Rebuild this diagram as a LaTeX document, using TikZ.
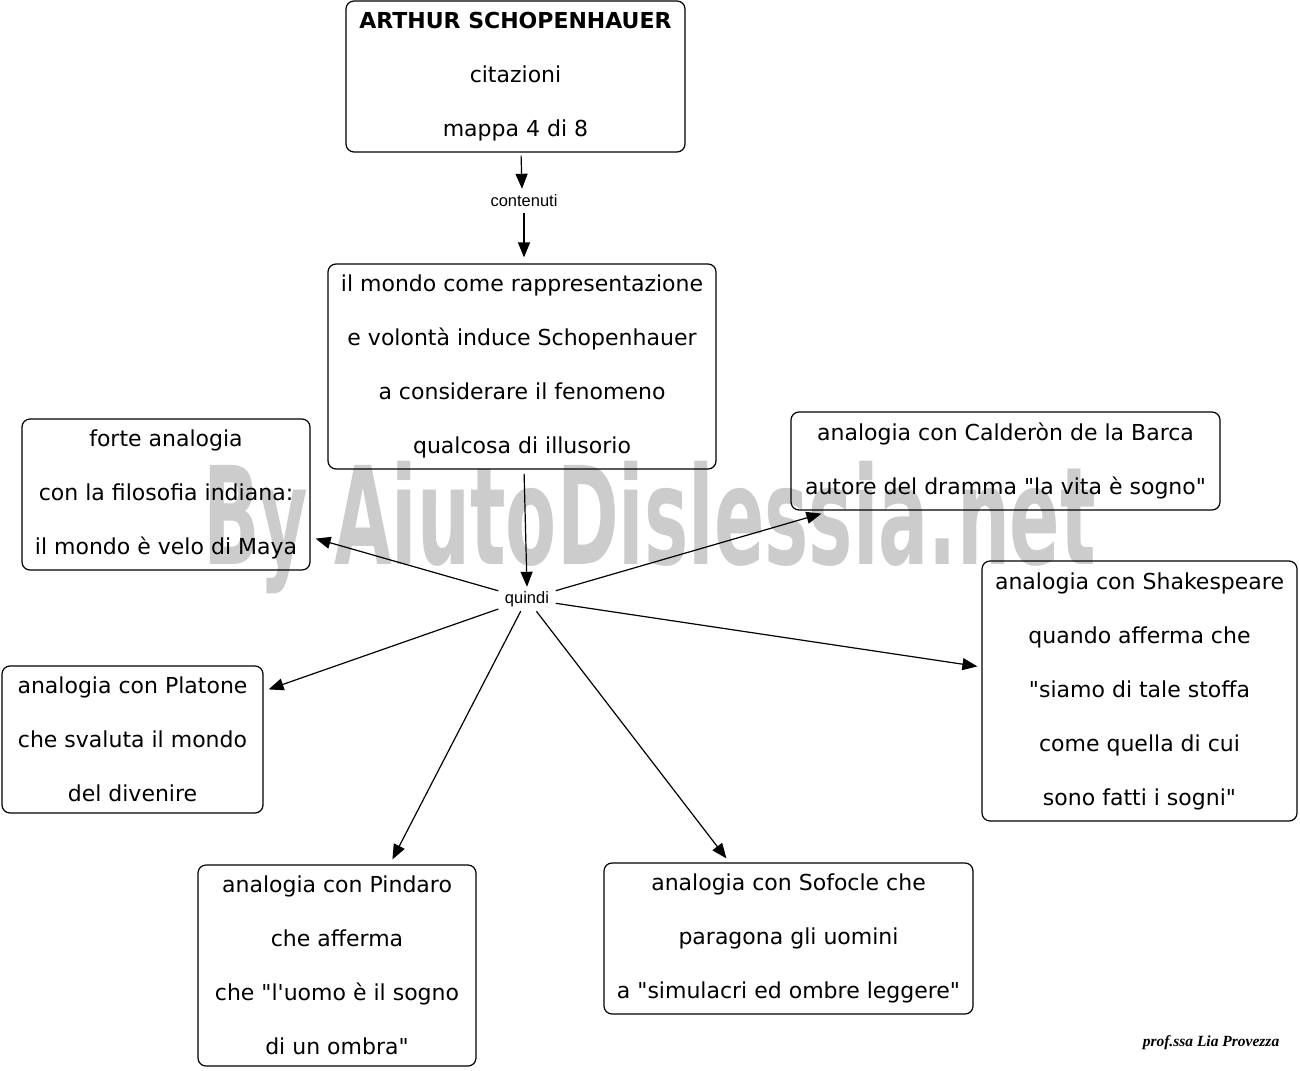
\documentclass[tikz,border=0pt]{standalone}
\usepackage{fontspec}
\setmainfont{DejaVu Sans}[Ligatures=TeXOff]
\newfontfamily\lblfont{Liberation Sans}
\newfontfamily\sigfont{Liberation Serif}
\usetikzlibrary{arrows.meta}
\begin{document}
\begin{tikzpicture}[x=1pt,y=-1pt,
  box/.style={draw, line width=1.2pt, rounded corners=8pt, align=center, inner sep=0pt,
    font=\fontsize{22}{54}\selectfont},
  lbl/.style={inner sep=0pt, minimum width=57pt, minimum height=24pt, font=\lblfont\fontsize{16.5}{18}\selectfont},
  arr/.style={line width=1.2pt, -{Triangle[length=15pt,width=12pt]}}]
\useasboundingbox (0,0) rectangle (1300,1070);
% watermark
\node[anchor=base west, inner sep=0pt, text=black!20, font=\fontsize{136}{140}\selectfont\bfseries] (wm) at (203,564)
  {\scalebox{0.547}[1]{By AiutoDislessia.net}};
% boxes
\node[box, minimum width=339pt, minimum height=151pt] (top) at (515.5,76.5)
  {\textbf{ARTHUR SCHOPENHAUER}\\citazioni\\mappa 4 di 8};
\node[box, minimum width=388pt, minimum height=205pt] (main) at (522,366.5)
  {il mondo come rappresentazione\\e volontà induce Schopenhauer\\a considerare il fenomeno\\qualcosa di illusorio};
\node[box, minimum width=288pt, minimum height=151pt] (lu) at (166,494.5)
  {forte analogia\\con la filosofia indiana:\\il mondo è velo di Maya};
\node[box, minimum width=429pt, minimum height=98pt] (cal) at (1005.5,461)
  {analogia con Calderòn de la Barca\\autore del dramma "la vita è sogno"};
\node[box, minimum width=315pt, minimum height=260pt] (sha) at (1139.5,691)
  {analogia con Shakespeare\\quando afferma che\\"siamo di tale stoffa\\come quella di cui\\sono fatti i sogni"};
\node[box, minimum width=261pt, minimum height=147pt] (pla) at (132.5,739.5)
  {analogia con Platone\\che svaluta il mondo\\del divenire};
\node[box, minimum width=278pt, minimum height=201pt] (pin) at (337,965.5)
  {analogia con Pindaro\\che afferma\\che "l'uomo è il sogno\\di un ombra"};
\node[box, minimum width=369pt, minimum height=151pt] (sof) at (788.5,938.5)
  {analogia con Sofocle che\\paragona gli uomini\\a "simulacri ed ombre leggere"};
% labels
\node[lbl] (cont) at (524,201) {contenuti};
\node[lbl] (q) at (527,599) {quindi};
% connectors
\draw[arr, shorten <=3pt] ([xshift=5.5pt]top.south) -- ([xshift=-2pt]cont.north);
\draw[arr, shorten >=6pt] (cont.south) -- (cont.south |- main.north);
\draw[arr, shorten <=4pt] ([xshift=2pt]main.south) -- (q.north);
\draw[arr] (q) -- ([shift={(5pt,32pt)}]lu.south east);
\draw[arr] (q) -- ([shift={(31pt,-3pt)}]cal.south west);
\draw[arr] (q) -- ([shift={(-4pt,-106pt)}]sha.north west);
\draw[arr] (q) -- ([shift={(5pt,-24pt)}]pla.north east);
\draw[arr] (q) -- ([shift={(195pt,5pt)}]pin.north west);
\draw[arr] (q) -- ([shift={(123pt,4pt)}]sof.north west);
% signature
\node[inner sep=0pt, font=\sigfont\bfseries\itshape\fontsize{15.5}{17}\selectfont] (sig) at (1211,1043) {prof.ssa Lia Provezza};
\end{tikzpicture}
\end{document}
